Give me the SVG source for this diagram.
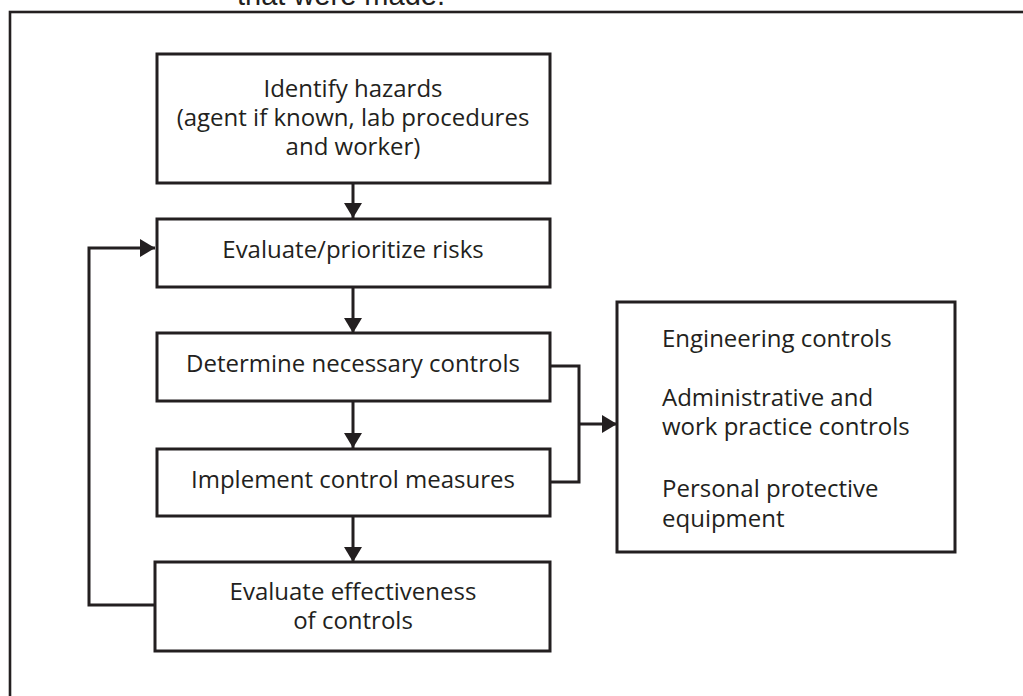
<svg xmlns="http://www.w3.org/2000/svg" width="1023" height="696" viewBox="0 0 1023 696">
<style>
.box{fill:#fff;stroke:#231f20;stroke-width:3}
.frame{fill:none;stroke:#231f20;stroke-width:2.6}
.lbl{font-family:"Open Sans","Noto Sans",sans-serif;font-size:24px;fill:#231f20}
.c{text-anchor:middle}
.conn{fill:none;stroke:#231f20;stroke-width:3}
</style>
<defs>
<marker id="ah" markerUnits="userSpaceOnUse" markerWidth="16" markerHeight="19" refX="15" refY="9" orient="auto">
<path d="M0,0 L15,9 L0,18 z" fill="#231f20"/>
</marker>
</defs>
<rect width="1023" height="696" fill="#fff"/>
<text x="237" y="5" style="font-family:'Liberation Sans',Arial,sans-serif;font-size:29px;fill:#231f20">that were made.</text>
<rect class="frame" x="10" y="12" width="1040" height="720"/>
<g id="connectors">
<line class="conn" x1="353" y1="183" x2="353" y2="218" marker-end="url(#ah)"/>
<line class="conn" x1="353" y1="287" x2="353" y2="333" marker-end="url(#ah)"/>
<line class="conn" x1="353" y1="401" x2="353" y2="448" marker-end="url(#ah)"/>
<line class="conn" x1="353" y1="516" x2="353" y2="562" marker-end="url(#ah)"/>
<polyline class="conn" points="155,605 89,605 89,248 155,248" marker-end="url(#ah)"/>
<polyline class="conn" points="550,366 579,366 579,482 550,482"/>
<line class="conn" x1="579" y1="424" x2="617" y2="424" marker-end="url(#ah)"/>
</g>
<g id="identify">
<rect class="box" x="157" y="54" width="393" height="129"/>
<text class="lbl c" x="353" y="97">Identify hazards</text>
<text class="lbl c" x="353" y="126">(agent if known, lab procedures</text>
<text class="lbl c" x="353" y="155">and worker)</text>
</g>
<g id="evaluate-risks">
<rect class="box" x="157" y="219" width="393" height="68"/>
<text class="lbl c" x="353" y="258">Evaluate/prioritize risks</text>
</g>
<g id="determine">
<rect class="box" x="157" y="333" width="393" height="68"/>
<text class="lbl c" x="353" y="372">Determine necessary controls</text>
</g>
<g id="implement">
<rect class="box" x="157" y="449" width="393" height="67"/>
<text class="lbl c" x="353" y="488">Implement control measures</text>
</g>
<g id="evaluate-effectiveness">
<rect class="box" x="155" y="562" width="395" height="89"/>
<text class="lbl c" x="353" y="600">Evaluate effectiveness</text>
<text class="lbl c" x="353" y="629">of controls</text>
</g>
<g id="controls-list">
<rect class="box" x="617" y="302" width="338" height="250"/>
<text class="lbl" x="662" y="347">Engineering controls</text>
<text class="lbl" x="662" y="406">Administrative and</text>
<text class="lbl" x="662" y="435">work practice controls</text>
<text class="lbl" x="662" y="497">Personal protective</text>
<text class="lbl" x="662" y="527">equipment</text>
</g>
</svg>
